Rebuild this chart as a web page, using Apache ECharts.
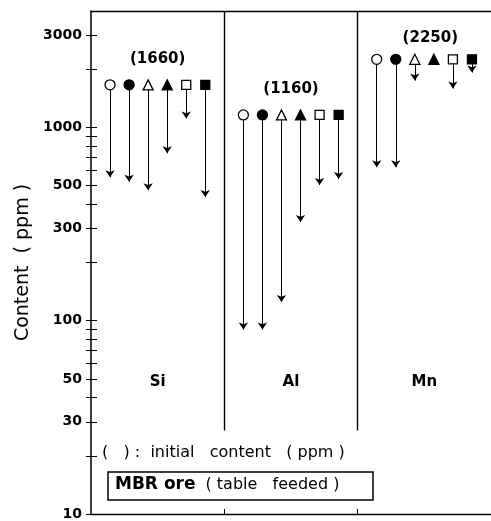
<!DOCTYPE html>
<html>
<head>
<meta charset="utf-8">
<script src="https://cdn.jsdelivr.net/npm/echarts@6/dist/echarts.min.js"></script>
<style>
  html, body { margin: 0; padding: 0; background: #fff; }
  #chart { width: 491px; height: 521px; }
</style>
</head>
<body>
<div id="chart"></div>
<script>
// elements and their initial content (ppm)
const elements = ['Si', 'Al', 'Mn'];
const initialContent = [1660, 1160, 2250];

// final content after treatment, one list per marker type (Si, Al, Mn)
const finalOpenCircle = [552, 90, 622];
const finalFilledCircle = [523, 90, 622];
const finalOpenTriangle = [473, 125, 1746];
const finalFilledTriangle = [734, 324, 2250];
const finalOpenSquare = [1112, 503, 1588];
const finalFilledSquare = [436, 540, 1922];

// axis ticks
const yLabelValues = [10, 30, 50, 100, 300, 500, 1000, 3000];
const yTickValues = [10, 20, 30, 40, 50, 60, 70, 80, 90,
  100, 200, 300, 400, 500, 600, 700, 800, 900, 1000, 2000, 3000];

const yMin = 10, yMax = 4000;
const font = 'DejaVu Sans';

const finals = [finalOpenCircle, finalFilledCircle, finalOpenTriangle,
  finalFilledTriangle, finalOpenSquare, finalFilledSquare];
const markers = [
  { symbol: 'circle', fill: '#fff', size: 10 },
  { symbol: 'circle', fill: '#000', size: 10 },
  { symbol: 'triangle', fill: '#fff', size: 10 },
  { symbol: 'triangle', fill: '#000', size: 10 },
  { symbol: 'rect', fill: '#fff', size: 9 },
  { symbol: 'rect', fill: '#000', size: 9 }
];

// each panel is 7 units wide, markers at 1..6 inside it
function xOf(panel, i) { return panel * 7 + 1 + i; }

const arrows = [];
finals.forEach(function (vals, i) {
  vals.forEach(function (v, k) {
    if (v < initialContent[k]) {
      arrows.push({ coords: [[xOf(k, i), initialContent[k]], [xOf(k, i), v]] });
    }
  });
});

const labelLift = [26, 26, 21];
const labelShift = [0, 0, 6];

const series = [
  {
    type: 'lines',
    coordinateSystem: 'cartesian2d',
    silent: true,
    symbol: ['none', 'none'],
    lineStyle: { color: '#000', width: 1.4, opacity: 1 },
    data: [
      { coords: [[7, yMax], [7, 27]] },
      { coords: [[14, yMax], [14, 27]] }
    ]
  },
  {
    type: 'lines',
    coordinateSystem: 'cartesian2d',
    silent: true,
    symbol: ['none', 'arrow'],
    symbolSize: 7,
    lineStyle: { color: '#000', width: 1, opacity: 1 },
    data: arrows,
    z: 3
  }
];

markers.forEach(function (m, i) {
  series.push({
    type: 'scatter',
    symbol: m.symbol,
    symbolSize: m.size,
    itemStyle: { color: m.fill, borderColor: '#000', borderWidth: 1.3, opacity: 1 },
    data: elements.map(function (e, k) { return [xOf(k, i), initialContent[k]]; }),
    z: 5
  });
});

series.push({
  type: 'scatter',
  symbolSize: 0,
  itemStyle: { color: '#000', opacity: 1 },
  data: elements.map(function (e, k) {
    return {
      value: [k * 7 + 3.5, initialContent[k]],
      label: { offset: [labelShift[k], -labelLift[k]] }
    };
  }),
  label: {
    show: true, position: 'inside', color: '#000', textBorderWidth: 0,
    fontFamily: font, fontWeight: 'bold', fontSize: 15,
    formatter: function (p) { return '(' + initialContent[p.dataIndex] + ')'; }
  }
});

series.push({
  type: 'scatter',
  symbolSize: 0,
  itemStyle: { color: '#000', opacity: 1 },
  data: elements.map(function (e, k) { return [k * 7 + 3.5, 48]; }),
  label: {
    show: true, position: 'inside', color: '#000', textBorderWidth: 0,
    fontFamily: font, fontWeight: 'bold', fontSize: 15,
    formatter: function (p) { return elements[p.dataIndex]; }
  }
});

const chart = echarts.init(document.getElementById('chart'));
chart.setOption({
  animation: false,
  backgroundColor: '#fff',
  grid: { left: 91, right: 0, top: 11, bottom: 6 },
  xAxis: [
    {
      type: 'value', min: 0, max: 21, position: 'bottom',
      axisLine: { show: true, lineStyle: { color: '#000', width: 1.3 } },
      axisTick: { show: true, inside: true, length: 5, customValues: [7, 14], lineStyle: { color: '#000' } },
      axisLabel: { show: false },
      splitLine: { show: false }
    },
    {
      type: 'value', min: 0, max: 21, position: 'top',
      axisLine: { show: true, lineStyle: { color: '#000', width: 1.3 } },
      axisTick: { show: false },
      axisLabel: { show: false },
      splitLine: { show: false }
    }
  ],
  yAxis: [
    {
      type: 'log', logBase: 10, min: yMin, max: yMax, position: 'left',
      axisLine: { show: true, lineStyle: { color: '#000', width: 1.5 } },
      axisTick: { show: true, inside: true, length: 6, customValues: yTickValues, lineStyle: { color: '#000' } },
      axisLabel: {
        customValues: yLabelValues, color: '#000', margin: 9,
        fontFamily: font, fontWeight: 'bold', fontSize: 14,
        formatter: function (v) { return String(Math.round(v)); }
      },
      splitLine: { show: false },
      name: 'Content  ( ppm )',
      nameLocation: 'middle',
      nameGap: 50,
      nameTextStyle: { color: '#000', fontFamily: font, fontSize: 19 }
    },
    {
      type: 'log', logBase: 10, min: yMin, max: yMax, position: 'right',
      axisLine: { show: false },
      axisTick: { show: true, inside: true, length: 5, customValues: yTickValues, lineStyle: { color: '#000' } },
      axisLabel: { show: false },
      splitLine: { show: false }
    }
  ],
  graphic: [
    {
      type: 'text', left: 102, top: 445,
      style: { text: '(   ) :  initial   content   ( ppm )', fill: '#000', font: '16px "DejaVu Sans"' }
    },
    {
      type: 'rect', shape: { x: 108, y: 472, width: 265, height: 28 },
      style: { fill: 'none', stroke: '#000', lineWidth: 1.5 }
    },
    {
      type: 'text', left: 115, top: 476,
      style: {
        text: '{b|MBR ore}   {r|( table   feeded )}',
        rich: {
          b: { fontFamily: font, fontWeight: 'bold', fontSize: 17, fill: '#000' },
          r: { fontFamily: font, fontSize: 16, fill: '#000' }
        }
      }
    }
  ],
  series: series
});
</script>
</body>
</html>
